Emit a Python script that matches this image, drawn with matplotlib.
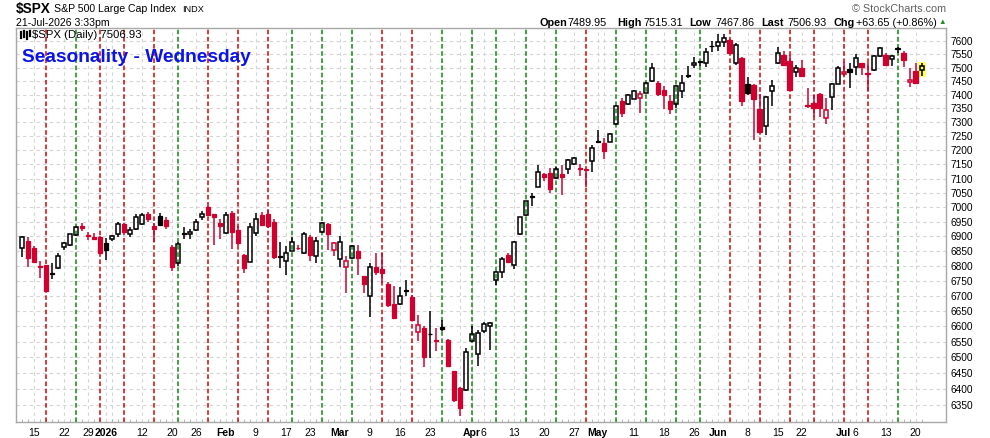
import matplotlib
matplotlib.use('Agg')
import matplotlib.pyplot as plt
import numpy as np
import pandas as pd
from matplotlib.lines import Line2D
from matplotlib.patches import Rectangle

plt.rcParams['font.family'] = ['Liberation Sans', 'DejaVu Sans']

# ---------------- data ----------------
holidays = ['2025-12-25', '2026-01-01', '2026-01-19', '2026-02-16',
            '2026-04-03', '2026-05-25', '2026-06-19', '2026-07-03']
dates = pd.bdate_range('2025-12-10', '2026-07-21', freq='C', holidays=holidays)
prev_close_start = 6840

opens = [6882, 6860, 6884, 6862, 6800, 6803, 6776, 6792, 6863, 6870, 6905, 6935, 6905, 6897, 6897,
         6879, 6890, 6907, 6943, 6910, 6925, 6943, 6976, 6936, 6970, 6957, 6864, 6809, 6912, 6907,
         6922, 6965, 7000, 6976, 6947, 6913, 6982, 6922, 6837, 6815, 6913, 6973, 6976, 6951, 6833,
         6818, 6852, 6862, 6843, 6899, 6835, 6915, 6943, 6854, 6823, 6797, 6828, 6851, 6766, 6700,
         6796, 6789, 6741, 6674, 6673, 6720, 6698, 6581, 6596, 6577, 6556, 6598, 6556, 6455, 6402,
         6395, 6554, 6510, 6585, 6600, 6753, 6781, 6837, 6805, 6907, 6975, 7039, 7072, 7115, 7121,
         7101, 7115, 7135, 7150, 7137, 7133, 7162, 7232, 7225, 7230, 7293, 7378, 7365, 7386, 7390,
         7408, 7451, 7444, 7417, 7376, 7368, 7412, 7471, 7509, 7523, 7516, 7582, 7580, 7594, 7603,
         7516, 7534, 7440, 7436, 7348, 7286, 7412, 7516, 7546, 7524, 7484, 7497, 7362, 7370, 7402,
         7314, 7393, 7440, 7475, 7494, 7503, 7516, 7480, 7490, 7543, 7546, 7533, 7571, 7556, 7446,
         7487, 7489.95]
highs = [6890, 6900, 6899, 6866, 6817, 6805, 6810, 6843, 6882, 6910, 6935, 6947, 6915, 6912, 6900,
         6894, 6905, 6949, 6946, 6933, 6978, 6980, 6983, 6946, 6980, 6966, 6870, 6880, 6931, 6925,
         6960, 6986, 7003, 6978, 6960, 6985, 6988, 6935, 6840, 6945, 6981, 6983, 6990, 6960, 6882,
         6866, 6899, 6870, 6915, 6905, 6899, 6950, 6946, 6882, 6902, 6834, 6872, 6870, 6768, 6811,
         6843, 6843, 6745, 6734, 6731, 6753, 6702, 6636, 6600, 6650, 6594, 6621, 6560, 6458, 6405,
         6529, 6601, 6587, 6615, 6616, 6783, 6830, 6845, 6884, 6968, 7023, 7049, 7147, 7118, 7138,
         7140, 7147, 7170, 7177, 7153, 7135, 7218, 7272, 7243, 7260, 7362, 7388, 7402, 7418, 7412,
         7448, 7518, 7450, 7432, 7400, 7435, 7472, 7505, 7538, 7525, 7571, 7600, 7625, 7625, 7605,
         7590, 7540, 7466, 7440, 7402, 7395, 7454, 7577, 7560, 7545, 7509, 7528, 7426, 7400, 7405,
         7388, 7442, 7505, 7520, 7516, 7550, 7518, 7516, 7547, 7576, 7555, 7545, 7578, 7560, 7497,
         7516, 7515.31]
lows = [6855, 6831, 6798, 6812, 6759, 6715, 6755, 6790, 6855, 6868, 6903, 6919, 6888, 6888, 6840,
        6820, 6886, 6899, 6912, 6897, 6922, 6940, 6950, 6882, 6935, 6925, 6784, 6800, 6893, 6893,
        6920, 6955, 6970, 6870, 6890, 6910, 6857, 6870, 6777, 6812, 6902, 6938, 6930, 6825, 6792,
        6771, 6850, 6855, 6840, 6818, 6811, 6912, 6854, 6835, 6796, 6709, 6825, 6769, 6709, 6631,
        6769, 6743, 6665, 6623, 6670, 6700, 6618, 6554, 6470, 6498, 6522, 6585, 6470, 6360, 6315,
        6392, 6550, 6474, 6580, 6524, 6737, 6760, 6812, 6790, 6905, 6970, 7005, 7070, 7090, 7049,
        7098, 7043, 7115, 7147, 7109, 7069, 7124, 7226, 7169, 7228, 7290, 7318, 7362, 7384, 7335,
        7405, 7448, 7395, 7348, 7330, 7350, 7388, 7460, 7499, 7505, 7503, 7559, 7560, 7575, 7550,
        7510, 7360, 7400, 7235, 7260, 7254, 7358, 7512, 7505, 7415, 7466, 7465, 7350, 7320, 7318,
        7293, 7344, 7438, 7470, 7426, 7472, 7472, 7415, 7488, 7540, 7505, 7505, 7555, 7501, 7429,
        7440, 7467.86]
closes = [6860, 6899, 6826, 6815, 6798, 6718, 6773, 6834, 6877, 6907, 6931, 6928, 6900, 6893, 6843,
          6854, 6902, 6943, 6915, 6922, 6965, 6975, 6961, 6924, 6940, 6937, 6796, 6873, 6910, 6915,
          6949, 6978, 6972, 6965, 6937, 6975, 6915, 6878, 6795, 6931, 6960, 6940, 6936, 6829, 6831,
          6845, 6880, 6860, 6908, 6836, 6885, 6946, 6907, 6879, 6880, 6817, 6866, 6828, 6740, 6796,
          6779, 6775, 6669, 6628, 6700, 6717, 6621, 6604, 6502, 6574, 6553, 6591, 6474, 6366, 6341,
          6519, 6574, 6580, 6609, 6612, 6781, 6822, 6815, 6882, 6965, 7021, 7036, 7124, 7107, 7062,
          7135, 7106, 7164, 7173, 7134, 7130, 7207, 7229, 7198, 7257, 7360, 7335, 7400, 7412, 7402,
          7442, 7497, 7402, 7398, 7348, 7432, 7442, 7468, 7516, 7521, 7559, 7579, 7596, 7609, 7553,
          7584, 7378, 7408, 7386, 7264, 7393, 7432, 7553, 7509, 7418, 7497, 7469, 7360, 7352, 7350,
          7346, 7440, 7497, 7482, 7484, 7534, 7501, 7477, 7543, 7571, 7509, 7543, 7568, 7528, 7455,
          7443.28, 7506.93]

tick_dates = ['2025-12-15', '2025-12-22', '2025-12-29', '2026-01-02', '2026-01-12', '2026-01-20',
              '2026-01-26', '2026-02-02', '2026-02-09', '2026-02-17', '2026-02-23', '2026-03-02',
              '2026-03-09', '2026-03-16', '2026-03-23', '2026-04-01', '2026-04-06', '2026-04-13',
              '2026-04-20', '2026-04-27', '2026-05-01', '2026-05-11', '2026-05-18', '2026-05-26',
              '2026-06-01', '2026-06-08', '2026-06-15', '2026-06-22', '2026-07-01', '2026-07-06',
              '2026-07-13', '2026-07-20']
tick_labels = ['15', '22', '29', '2026', '12', '20', '26', 'Feb', '9', '17', '23', 'Mar', '9', '16',
               '23', 'Apr', '6', '13', '20', '27', 'May', '11', '18', '26', 'Jun', '8', '15', '22',
               'Jul', '6', '13', '20']
bold_labels = ['2026', 'Feb', 'Mar', 'Apr', 'May', 'Jun', 'Jul']
y_ticks = list(range(6350, 7601, 50))

# ---------------- figure ----------------
W, H = 990, 438
fig = plt.figure(figsize=(W / 100, H / 100), dpi=100)
fig.patch.set_facecolor('white')


def fx(px):
    return px / W


def fy(py):
    return 1 - py / H


ax = fig.add_axes([fx(16), fy(422), (946 - 16) / W, (422 - 28) / H])
ax.set_yscale('log')
ax.set_xlim(0.05, 155.05)
ax.set_ylim(6296, 7648)

o = np.array(opens, float)
h = np.array(highs, float)
l = np.array(lows, float)
c = np.array(closes, float)
n = len(c)
x = np.arange(n)
prev = np.concatenate([[prev_close_start], c[:-1]])
up_day = c >= prev
hollow = c > o

RED = '#d2002e'
BLACK = '#000000'
LINE_RED = '#e00000'
LINE_GREEN = '#0a8a0a'
GRID = '#d4d4d4'

# grid: horizontal at price ticks, vertical at first trading day of each week and at labels
for yt in y_ticks:
    ax.axhline(yt, color=GRID, lw=0.8, ls=(0, (3, 3)), zorder=1)
tick_pos = [dates.get_loc(pd.Timestamp(d)) for d in tick_dates]
week = dates.isocalendar().week.values
week_start = [i for i in range(n) if i == 0 or week[i] != week[i - 1]]
for gp in sorted(set(week_start) | set(tick_pos)):
    ax.axvline(gp, color=GRID, lw=0.8, ls=(0, (3, 3)), zorder=1)

# Wednesday lines
for i in np.where(dates.dayofweek == 2)[0]:
    ax.axvline(x[i], color=LINE_GREEN if up_day[i] else LINE_RED, lw=1.1,
               ls=(0, (3, 1.7)), zorder=2)

# highlight of last bar
last = n - 1
ax.add_patch(Rectangle((x[last] - 0.65, l[last] - 4), 1.3, h[last] - l[last] + 8,
                       facecolor='#ffff66', edgecolor='none', zorder=3))

# candles (first bar only sets the reference close)
body_lo = np.minimum(o, c)
body_hi = np.maximum(o, c)
for i in range(1, n):
    col = BLACK if up_day[i] else RED
    ax.vlines(x[i], body_hi[i], h[i], colors=col, lw=1.1, zorder=4)
    ax.vlines(x[i], l[i], body_lo[i], colors=col, lw=1.1, zorder=4)
    if hollow[i]:
        ax.bar(x[i], body_hi[i] - body_lo[i], bottom=body_lo[i], width=0.66,
               facecolor='none', edgecolor=col, lw=1.1, zorder=5)
    else:
        ax.bar(x[i], body_hi[i] - body_lo[i], bottom=body_lo[i], width=0.76,
               facecolor=col, edgecolor=col, lw=0.9, zorder=5)

# axes styling
for s in ax.spines.values():
    s.set_color('#a8a8a8')
    s.set_linewidth(1.0)
ax.yaxis.tick_right()
ax.set_yticks(y_ticks)
ax.set_yticklabels([str(v) for v in y_ticks])
ax.yaxis.set_minor_locator(matplotlib.ticker.NullLocator())
ax.tick_params(axis='y', which='major', length=0, labelsize=7.3, pad=3)
ax.set_xticks(tick_pos)
ax.set_xticklabels(tick_labels)
ax.set_xticks(x, minor=True)
ax.tick_params(axis='x', which='major', length=0, labelsize=7.5, pad=4)
ax.tick_params(axis='x', which='minor', length=2, width=0.6, color='#a8a8a8', direction='in')
for lab in ax.get_xticklabels():
    if lab.get_text() in bold_labels:
        lab.set_fontweight('bold')

# ---------------- texts ----------------
fig.text(fx(16), fy(9.5), '$SPX', fontsize=9.8, fontweight='bold', va='center', ha='left')
fig.text(fx(54), fy(9.5), 'S&P 500 Large Cap Index', fontsize=7.6, va='center', ha='left')
fig.text(fx(182), fy(9.8), 'INDX', fontsize=6.6, va='center', ha='left')
fig.text(fx(16), fy(22.7), '21-Jul-2026 3:33pm', fontsize=7.6, va='center', ha='left')
fig.text(fx(946), fy(9), '\u00a9 StockCharts.com', fontsize=7.8, va='center', ha='right',
         color='#606060')

hdr = [(540, 'Open', True), (568, '7489.95', False), (617, 'High', True), (644, '7515.31', False),
       (689, 'Low', True), (716, '7467.86', False), (761, 'Last', True), (788, '7506.93', False),
       (833, 'Chg', True), (856, '+63.65 (+0.86%)', False)]
for px, s, b in hdr:
    fig.text(fx(px), fy(22.7), s, fontsize=7.8, fontweight='bold' if b else 'normal',
             va='center', ha='left')
fig.text(fx(942), fy(22.5), '\u25b2', fontsize=5.5, color='#2a8a2a', va='center', ha='center')

# inside-plot labels
icon = [(20.5, 32, 38), (23.5, 31, 37), (26.5, 32, 39), (29.5, 31, 36)]
for ix, y0, y1 in icon:
    fig.add_artist(Line2D([fx(ix), fx(ix)], [fy(y0), fy(y1)], color='black', lw=1.6))
fig.text(fx(32), fy(35), '$SPX (Daily) 7506.93', fontsize=8.2, va='center', ha='left')
fig.text(fx(22.5), fy(57), 'Seasonality - Wednesday', fontsize=13.8, fontweight='bold',
         color='#0a14e6', va='center', ha='left')

fig.savefig('out.png', dpi=100, facecolor='white')
